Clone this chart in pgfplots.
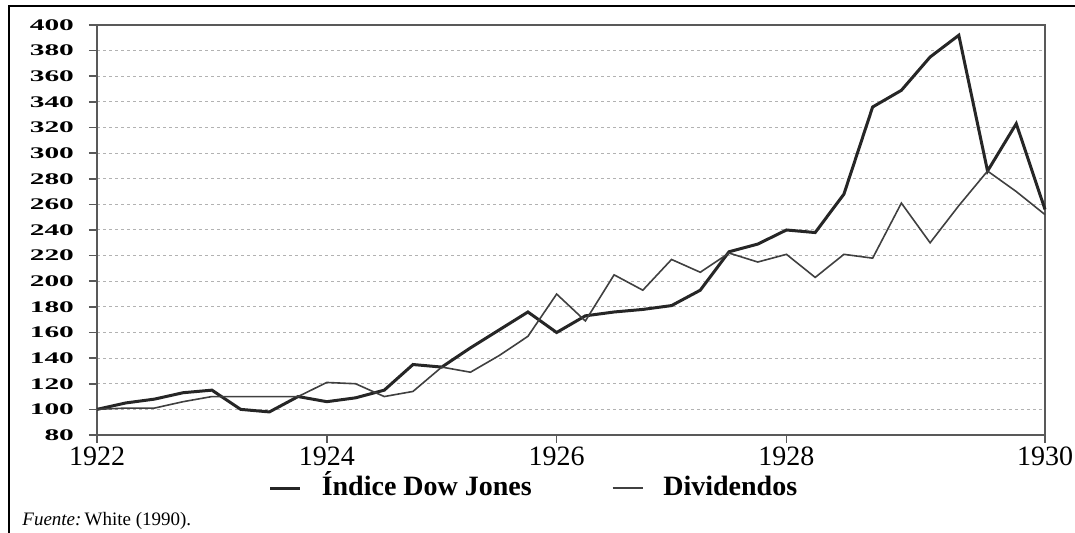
\documentclass[border=0pt]{standalone}
\usepackage{pgfplots}
\pgfplotsset{compat=1.18}
\usepackage{graphicx}
\usepackage{fontspec}
\setmainfont{Liberation Serif}

% wide, flat bold numbers on the y axis
\newcommand\yl[1]{\scalebox{1.47}[0.81]{\bfseries #1}}

\begin{document}
\begin{tikzpicture}
\useasboundingbox (0,0) rectangle (537.5pt,266.5pt);
\draw[line width=1pt] (4.5pt,0) -- (4.5pt,263.5pt) -- (537.5pt,263.5pt);

\begin{axis}[
    at={(48.5pt,49pt)}, anchor=south west,
    scale only axis,
    width=474pt, height=205pt,
    xmin=0, xmax=33,
    ymin=80, ymax=400,
    xtick={0,8,16,24,33},
    xticklabels={1922,1924,1926,1928,1930},
    ytick={80,100,...,400},
    yticklabels={\yl{80},\yl{100},\yl{120},\yl{140},\yl{160},\yl{180},\yl{200},
      \yl{220},\yl{240},\yl{260},\yl{280},\yl{300},\yl{320},\yl{340},\yl{360},
      \yl{380},\yl{400}},
    xtick pos=bottom, ytick pos=left,
    tick align=outside,
    major tick length=4pt,
    tick style={gray!70!black, line width=0.8pt},
    axis line style={gray!70!black, line width=0.9pt},
    ymajorgrids,
    major grid style={gray!60, line width=0.5pt, dash pattern=on 1.3pt off 1.7pt},
    xticklabel style={font=\fontsize{14}{16}\selectfont, yshift=1.5pt},
    yticklabel style={font=\fontsize{10}{12}\selectfont, xshift=-4pt},
    legend columns=2,
    legend style={at={(0.462,-0.13)}, anchor=center, draw=none, fill=none,
      font=\fontsize{14}{16}\selectfont\bfseries,
      nodes={text height=10pt, text depth=3pt},
      /tikz/every odd column/.append style={column sep=8pt},
      /tikz/every even column/.append style={column sep=38pt}},
    legend image code/.code={\draw[#1] (0pt,0pt) -- (15pt,0pt);},
    clip=false,
  ]
  \addplot[line width=1.5pt, color=black!85] coordinates {
    (0,100) (1,105) (2,108) (3,113) (4,115) (5,100) (6,98) (7,110)
    (8,106) (9,109) (10,115) (11,135) (12,133) (13,148) (14,162) (15,176)
    (16,160) (17,173) (18,176) (19,178) (20,181) (21,193) (22,223) (23,229)
    (24,240) (25,238) (26,268) (27,336) (28,349) (29,375) (30,392) (31,286)
    (32,323) (33,256)
  };
  \addplot[line width=0.8pt, color=black!75] coordinates {
    (0,100) (1,101) (2,101) (3,106) (4,110) (5,110) (6,110) (7,110)
    (8,121) (9,120) (10,110) (11,114) (12,133) (13,129) (14,142) (15,157)
    (16,190) (17,169) (18,205) (19,193) (20,217) (21,207) (22,222) (23,215)
    (24,221) (25,203) (26,221) (27,218) (28,261) (29,230) (30,259) (31,286)
    (32,270) (33,252)
  };
  \legend{Índice Dow Jones, Dividendos}
\end{axis}

\node[anchor=base west, inner sep=0pt, font=\fontsize{9.5}{11}\selectfont] at (11pt,3.5pt)
  {\textit{Fuente:}\,White (1990).};
\end{tikzpicture}
\end{document}
